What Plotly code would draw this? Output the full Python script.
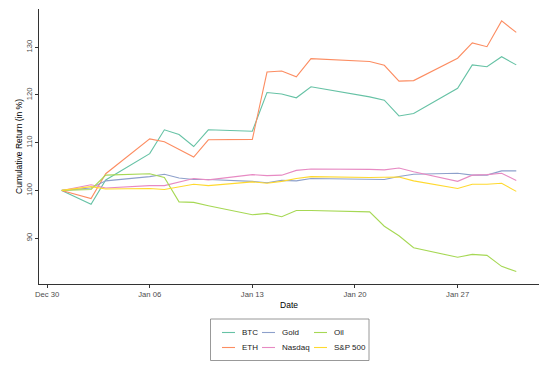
import plotly.graph_objects as go

dates = ["2024-12-31", "2025-01-02", "2025-01-03", "2025-01-06", "2025-01-07", "2025-01-08",
         "2025-01-09", "2025-01-10", "2025-01-13", "2025-01-14", "2025-01-15", "2025-01-16",
         "2025-01-17", "2025-01-21", "2025-01-22", "2025-01-23", "2025-01-24", "2025-01-27",
         "2025-01-28", "2025-01-29", "2025-01-30", "2025-01-31"]

btc = [100, 97.1, 102.2, 107.7, 112.7, 111.7, 109.2, 112.7, 112.4, 120.5, 120.2, 119.4,
       121.7, 119.6, 118.9, 115.6, 116.1, 121.4, 126.3, 125.9, 128.0, 126.3]
eth = [100, 98.3, 103.5, 110.8, 110.2, 108.6, 107.0, 110.6, 110.7, 124.8, 125.0, 123.8,
       127.6, 127.0, 126.2, 122.9, 123.0, 127.7, 130.9, 130.1, 135.5, 133.1]
gold = [100, 100.5, 102.0, 102.9, 103.4, 102.6, 102.3, 102.3, 101.9, 101.6, 102.1, 102.0,
        102.5, 102.4, 102.3, 102.9, 103.4, 103.6, 103.2, 103.2, 104.1, 104.1]
nasdaq = [100, 101.2, 100.5, 101.0, 101.0, 101.8, 102.5, 102.2, 103.3, 103.1, 103.2, 104.2,
          104.5, 104.4, 104.3, 104.7, 103.9, 101.9, 103.2, 103.3, 103.6, 102.1]
oil = [100, 100.2, 103.2, 103.5, 102.7, 97.6, 97.5, 96.8, 94.9, 95.2, 94.5, 95.8,
       95.8, 95.5, 92.5, 90.5, 88.0, 86.0, 86.6, 86.4, 84.1, 83.0]
sp500 = [100, 100.8, 100.3, 100.4, 100.2, 100.7, 101.3, 101.0, 101.8, 101.5, 101.9, 102.5,
         102.9, 102.7, 102.7, 102.8, 102.0, 100.4, 101.3, 101.3, 101.5, 99.8]

series_names = ["BTC", "ETH", "Gold", "Nasdaq", "Oil", "S&P 500"]
series_values = [btc, eth, gold, nasdaq, oil, sp500]
colors = ["#66c2a5", "#fc8d62", "#8da0cb", "#e78ac3", "#a6d854", "#ffd92f"]

x_tick_vals = ["2024-12-30", "2025-01-06", "2025-01-13", "2025-01-20", "2025-01-27"]
x_tick_text = ["Dec 30", "Jan 06", "Jan 13", "Jan 20", "Jan 27"]
y_tick_vals = [90, 100, 110, 120, 130]

# the page body has an 8px default margin, so the figure is drawn 8px smaller
OFF = 8
W, H = 554 - OFF, 369 - OFF
ML, MT = 39 - OFF, 9 - OFF
MR, MB = 15, 85
PW, PH = W - ML - MR, H - MT - MB

FONT = "Liberation Sans, Arial, Helvetica, sans-serif"

fig = go.Figure()
for name, vals, col in zip(series_names, series_values, colors):
    fig.add_trace(go.Scatter(x=dates, y=vals, mode="lines", name=name,
                             line=dict(color=col, width=1.1), showlegend=False))

axis_common = dict(showline=True, linecolor="#333333", linewidth=1, ticks="outside",
                   ticklen=3, tickwidth=1, tickcolor="#333333", showgrid=False,
                   zeroline=False, tickfont=dict(size=7.7, color="#4d4d4d", family=FONT))

fig.update_xaxes(type="date", range=["2024-12-29 10:48", "2025-02-01 13:12"],
                 tickvals=x_tick_vals, ticktext=x_tick_text,
                 title=dict(text="Date", font=dict(size=8.5, color="#000000", family=FONT), standoff=3),
                 **axis_common)
fig.update_yaxes(range=[80.4, 138.0], tickvals=y_tick_vals, tickangle=-90,
                 title=dict(text="Cumulative Return (in %)", font=dict(size=8.5, color="#000000", family=FONT), standoff=0),
                 **axis_common)


def px_x(p):
    # p: pixel position in the 554x369 page
    return (p - OFF - ML) / PW


def px_y(p):
    return (H - MB - (p - OFF)) / PH


# legend box (3 columns x 2 rows, column-major like the reference)
shapes = [dict(type="rect", xref="paper", yref="paper",
               x0=px_x(210.5), x1=px_x(369), y0=px_y(319), y1=px_y(360.5),
               line=dict(color="#7f7f7f", width=0.8), fillcolor="white")]
annotations = []
col_x = [222, 262, 314]
row_y = [332.5, 347.5]
for i, (name, col) in enumerate(zip(series_names, colors)):
    c, r = i // 2, i % 2
    x0 = col_x[c]
    y0 = row_y[r]
    shapes.append(dict(type="line", xref="paper", yref="paper",
                       x0=px_x(x0), x1=px_x(x0 + 13), y0=px_y(y0), y1=px_y(y0),
                       line=dict(color=col, width=1.1)))
    annotations.append(dict(text=name, xref="paper", yref="paper", x=px_x(x0 + 18), y=px_y(y0),
                            xanchor="left", yanchor="middle", showarrow=False,
                            font=dict(size=8, color="#1a1a1a", family=FONT)))

fig.update_layout(width=W, height=H, margin=dict(l=ML, r=MR, t=MT, b=MB, autoexpand=False),
                  paper_bgcolor="white", plot_bgcolor="white", showlegend=False,
                  shapes=shapes, annotations=annotations, font=dict(family=FONT))

fig.write_html("out.html")
